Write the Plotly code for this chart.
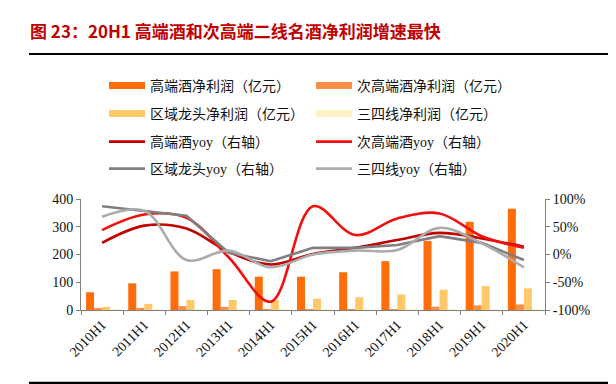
import plotly.graph_objects as go

categories = ["2010H1", "2011H1", "2012H1", "2013H1", "2014H1", "2015H1",
              "2016H1", "2017H1", "2018H1", "2019H1", "2020H1"]

high_profit = [64, 96, 139, 147, 120, 120, 136, 176, 249, 318, 365]
sub_profit = [4, 8, 14, 11, 2, 1, 2, 3, 12, 17, 20]
regional_profit = [11, 22, 36, 36, 36, 41, 46, 56, 73, 86, 78]
tier34_profit = [2, 2, 3, 3, 2, 2, 2, 2, 3, 3, 3]

high_yoy = [21, 52, 47, 5, -18, 1, 12, 26, 39, 29, 14]
sub_yoy = [44, 72, 66, -5, -85, 87, 35, 65, 74, 33, 12]
regional_yoy = [87, 79, 70, 3, -12, 12, 12, 17, 33, 21, -10]
tier34_yoy = [68, 79, -10, 7, -23, 0, 7, 8, 48, 20, -23]

bar_names = ["高端酒净利润（亿元）", "次高端酒净利润（亿元）",
             "区域龙头净利润（亿元）", "三四线净利润（亿元）"]
line_names = ["高端酒yoy（右轴）", "次高端酒yoy（右轴）",
              "区域龙头yoy（右轴）", "三四线yoy（右轴）"]

left_ticks = [0, 100, 200, 300, 400]
right_ticks = [-100, -50, 0, 50, 100]
right_ticktext = ["-100%", "-50%", "0%", "50%", "100%"]

title_text = "图 23：20H1 高端酒和次高端二线名酒净利润增速最快"

bar_colors = ["#FF6C0A", "#F98E46", "#FFC96A", "#FFF3C6"]
line_colors = ["#C00000", "#F01010", "#7F7F7F", "#ABABAB"]

bar_values = [high_profit, sub_profit, regional_profit, tier34_profit]
line_values = [high_yoy, sub_yoy, regional_yoy, tier34_yoy]

fig = go.Figure()

for vals, col in zip(bar_values, bar_colors):
    fig.add_trace(go.Bar(x=categories, y=vals, marker_color=col,
                         marker_line_width=0, showlegend=False, yaxis="y"))

legend_ids = ["legend", "legend", "legend2", "legend2"]
for name, col, lg in zip(bar_names, bar_colors, legend_ids):
    fig.add_trace(go.Scatter(x=[None], y=[None], mode="lines", name=name,
                             line=dict(color=col, width=7), legend=lg,
                             hoverinfo="skip"))

line_legends = ["legend3", "legend3", "legend4", "legend4"]
line_shapes = ["spline", "spline", "linear", "spline"]
for vals, name, col, lg, shp in zip(line_values, line_names, line_colors,
                                     line_legends, line_shapes):
    fig.add_trace(go.Scatter(x=categories, y=vals, mode="lines", name=name,
                             line=dict(color=col, width=2.6, shape=shp,
                                       smoothing=1.0),
                             yaxis="y2", legend=lg))

PL, PR, PT, PB = 73, 537, 191, 302
W, H = 616, 384


def px_x(p):
    return (p - PL) / (PR - PL)


def px_y(p):
    return (PB - p) / (PB - PT)


legend_font = dict(family="Liberation Serif, Noto Sans CJK SC", size=14,
                   color="#111111")


def mk_legend(row_y):
    return dict(xref="container", yref="container",
                x=96 / W, xanchor="left", y=1 - row_y / H, yanchor="middle",
                orientation="h", entrywidth=156, entrywidthmode="pixels",
                itemwidth=36, font=legend_font, bgcolor="rgba(0,0,0,0)",
                traceorder="normal", itemclick=False)


axis_font = dict(family="Liberation Serif, Times New Roman, serif", size=14,
                 color="#111111")
axis_line = "#808080"

fig.update_layout(
    width=W, height=H,
    margin=dict(l=PL, r=W - PR, t=PT, b=H - PB, pad=0, autoexpand=False),
    paper_bgcolor="white", plot_bgcolor="white",
    barmode="group", bargap=0.24, bargroupgap=0,
    title=dict(text="<b>" + title_text + "</b>", x=22 / W, xanchor="left",
               xref="container", yref="container",
               y=1 - 24 / H, yanchor="middle", automargin=False,
               font=dict(family="Noto Sans CJK SC", size=17, color="#C00000")),
    xaxis=dict(type="category", tickangle=-45, tickson="boundaries",
               ticks="outside", ticklen=4, tickcolor=axis_line,
               showline=True, linecolor=axis_line, linewidth=1,
               showgrid=False, tickfont=axis_font, automargin=False),
    yaxis=dict(range=[0, 400], tickvals=left_ticks, ticks="outside",
               ticklen=4, tickcolor=axis_line, showline=True,
               linecolor=axis_line, linewidth=1, showgrid=False,
               zeroline=False, tickfont=axis_font, automargin=False),
    yaxis2=dict(range=[-100, 100], overlaying="y", side="right",
                tickvals=right_ticks, ticktext=right_ticktext,
                ticks="outside", ticklen=4, tickcolor=axis_line,
                showline=True, linecolor=axis_line, linewidth=1,
                showgrid=False, zeroline=False, tickfont=axis_font,
                automargin=False),
    legend=mk_legend(78),
    legend2=mk_legend(106),
    legend3=mk_legend(134),
    legend4=mk_legend(161),
    shapes=[
        dict(type="line", xref="paper", yref="paper",
             x0=px_x(21), x1=px_x(601), y0=px_y(46), y1=px_y(46),
             line=dict(color="black", width=2)),
        dict(type="line", xref="paper", yref="paper",
             x0=px_x(21), x1=px_x(601), y0=px_y(375), y1=px_y(375),
             line=dict(color="black", width=2.5)),
    ],
)

fig.write_html("out.html")
